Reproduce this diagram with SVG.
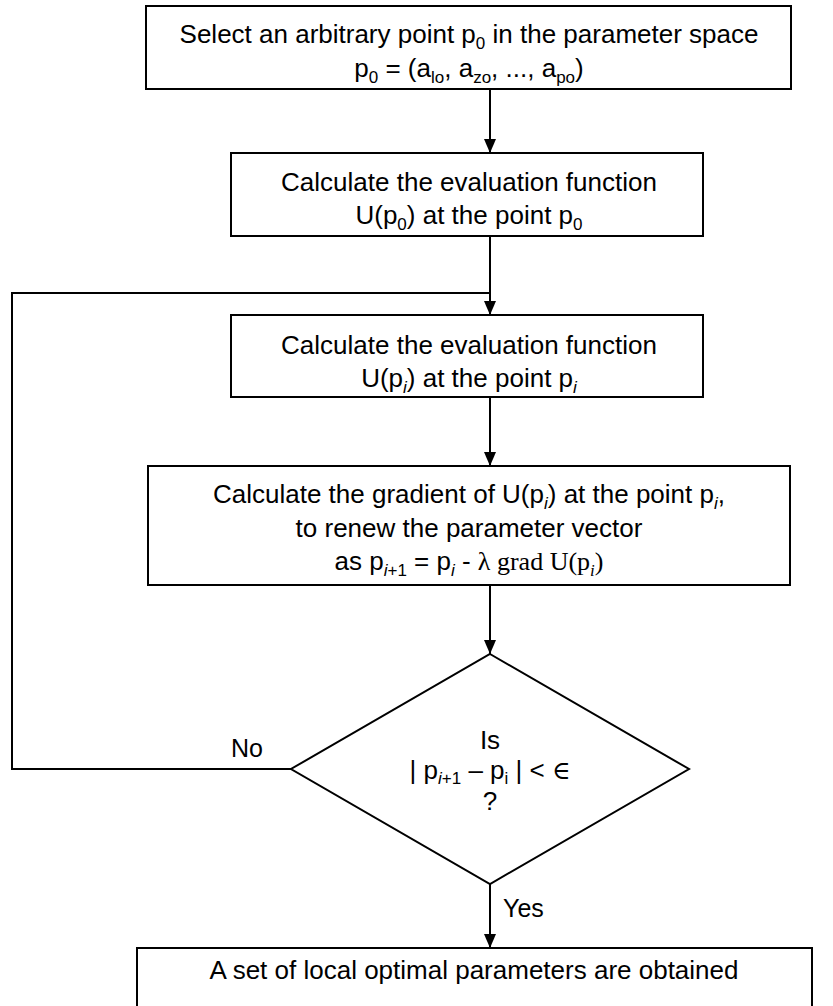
<svg xmlns="http://www.w3.org/2000/svg" width="833" height="1006" viewBox="0 0 833 1006">
<defs>
<style>
.box{fill:#fff;stroke:#000;stroke-width:2}
.ln{fill:none;stroke:#000;stroke-width:2}
.t{font-family:"Liberation Sans",Arial,sans-serif;font-size:26px;fill:#000;text-anchor:middle}
.s{font-size:17px}
.it{font-style:italic}
.sr{font-family:"Liberation Serif","Times New Roman",serif}
.lbl{font-family:"Liberation Sans",Arial,sans-serif;font-size:25px;fill:#000}
</style>
<marker id="ah" markerUnits="userSpaceOnUse" markerWidth="14" markerHeight="12" refX="14" refY="6" orient="auto">
<path d="M0,0 L14,6 L0,12 z" fill="#000"/>
</marker>
</defs>
<rect width="833" height="1006" fill="#fff"/>
<g id="connectors">
<line class="ln" x1="490" y1="89" x2="490" y2="153" marker-end="url(#ah)"/>
<line class="ln" x1="490" y1="236" x2="490" y2="315" marker-end="url(#ah)"/>
<line class="ln" x1="490" y1="397" x2="490" y2="466" marker-end="url(#ah)"/>
<line class="ln" x1="490" y1="585" x2="490" y2="654" marker-end="url(#ah)"/>
<line class="ln" x1="490" y1="884" x2="490" y2="948" marker-end="url(#ah)"/>
<polyline class="ln" points="291,769 12,769 12,293 490,293"/>
<text class="lbl" x="231" y="757">No</text>
<text class="lbl" x="503" y="917">Yes</text>
</g>
<g id="start">
<rect class="box" x="146" y="6" width="645" height="83"/>
<text class="t" x="469" y="43">Select an arbitrary point p<tspan class="s" dy="6">0</tspan><tspan dy="-6"> in the parameter space</tspan></text>
<text class="t" x="469" y="77">p<tspan class="s" dy="6">0</tspan><tspan dy="-6"> = (a</tspan><tspan class="s" dy="6">lo</tspan><tspan dy="-6">, a</tspan><tspan class="s" dy="6">zo</tspan><tspan dy="-6">, ..., a</tspan><tspan class="s" dy="6">po</tspan><tspan dy="-6">)</tspan></text>
</g>
<g id="eval0">
<rect class="box" x="231" y="153" width="472" height="83"/>
<text class="t" x="469" y="191">Calculate the evaluation function</text>
<text class="t" x="469" y="224">U(p<tspan class="s" dy="6">0</tspan><tspan dy="-6">) at the point p</tspan><tspan class="s" dy="6">0</tspan></text>
</g>
<g id="evali">
<rect class="box" x="231" y="315" width="472" height="82"/>
<text class="t" x="469" y="354">Calculate the evaluation function</text>
<text class="t" x="469" y="387">U(p<tspan class="s it" dy="6">i</tspan><tspan dy="-6">) at the point p</tspan><tspan class="s it" dy="6">i</tspan></text>
</g>
<g id="gradient">
<rect class="box" x="148" y="466" width="642" height="119"/>
<text class="t" x="469" y="503">Calculate the gradient of U(p<tspan class="s it" dy="6">i</tspan><tspan dy="-6">) at the point p</tspan><tspan class="s it" dy="6">i</tspan><tspan dy="-6">,</tspan></text>
<text class="t" x="469" y="537">to renew the parameter vector</text>
<text class="t" x="469" y="570">as p<tspan class="s" dy="6"><tspan class="it">i</tspan>+1</tspan><tspan dy="-6"> = p</tspan><tspan class="s it" dy="6">i</tspan><tspan dy="-6"> - </tspan><tspan class="sr">λ grad U(p</tspan><tspan class="s it sr" dy="6">i</tspan><tspan class="sr" dy="-6">)</tspan></text>
</g>
<g id="decision">
<polygon class="box" points="490,654 689,769 490,884 291,769"/>
<text class="t" x="490" y="749">Is</text>
<text class="t" x="490" y="779">| p<tspan class="s" dy="5"><tspan class="it">i</tspan>+1</tspan><tspan dy="-5"> – p</tspan><tspan class="s" dy="5">i</tspan><tspan dy="-5"> | &lt; </tspan><tspan font-family="'DejaVu Serif',serif" font-size="25">∈</tspan></text>
<text class="t" x="490" y="810">?</text>
</g>
<g id="result">
<rect class="box" x="137" y="948" width="675" height="80"/>
<text class="t" x="474" y="979">A set of local optimal parameters are obtained</text>
</g>
</svg>
